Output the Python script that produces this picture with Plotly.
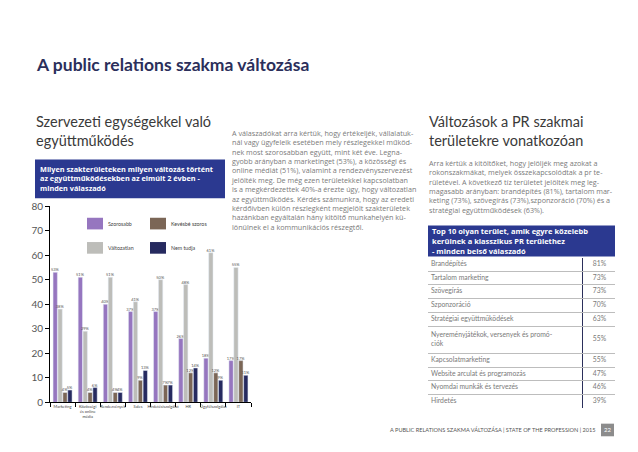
import plotly.graph_objects as go

W, H = 638, 452

# ---------------- data ----------------
categories = ["Marketing", "Közösségi<br>és online<br>média", "Rendezvények", "Sales",
              "Hirdetésiszolgálat", "HR", "Ügyfélszolgálat", "IT"]
series_names = ["Szorosabb", "Változatlan", "Kevésbé szoros", "Nem tudja"]
szorosabb = [53, 51, 40, 37, 37, 26, 18, 17]
valtozatlan = [38, 29, 51, 41, 50, 48, 61, 55]
kevesbe = [4, 4, 4, 9, 7, 12, 12, 17]
nem_tudja = [5, 6, 4, 13, 7, 14, 9, 11]
y_ticks = [0, 10, 20, 30, 40, 50, 60, 70, 80]

table_areas = ["Brandépítés", "Tartalom marketing", "Szövegírás", "Szponzoráció",
               "Stratégiai együttműködések", "Nyereményjátékok, versenyek és promó-<br>ciók",
               "Kapcsolatmarketing", "Website arculat és programozás",
               "Nyomdai munkák és tervezés", "Hirdetés"]
table_pct = ["81%", "73%", "73%", "70%", "63%", "55%", "55%", "47%", "46%", "39%"]

colors = ["#9676bf", "#bdbdb9", "#7b6656", "#262a5f"]
BLUE = "#2b3990"
FONT = "Lato"
BODY = "Open Sans"


def px(x):
    return x / W


def py(y):
    return 1 - y / H


fig = go.Figure()
values = [szorosabb, valtozatlan, kevesbe, nem_tudja]
for name, vals, col in zip(series_names, values, colors):
    fig.add_trace(go.Bar(
        x=categories, y=vals, name=name, marker_color=col,
        text=[f"{v}%" for v in vals], textposition="outside",
        textfont=dict(size=4, color="#555", family=FONT),
        constraintext="none", cliponaxis=False, showlegend=False,
    ))

# ---- table built on its own axes: row heights follow line counts ----
row_h = [t.count("<br>") + 1 for t in table_areas]
bounds = [0]
for h in row_h:
    bounds.append(bounds[-1] + h)
centers = [(a + b) / 2 for a, b in zip(bounds[:-1], bounds[1:])]
COL_W = [154, 33]

fig.add_trace(go.Scatter(
    x=[3] * len(table_areas), y=centers, text=table_areas, mode="text",
    textposition="middle right", xaxis="x2", yaxis="y2", showlegend=False,
    textfont=dict(size=6.8, color="#7a7a7a", family=FONT), hoverinfo="skip"))
fig.add_trace(go.Scatter(
    x=[COL_W[0] + COL_W[1] / 2 + 1] * len(table_pct), y=centers, text=table_pct, mode="text",
    textposition="middle center", xaxis="x2", yaxis="y2", showlegend=False,
    textfont=dict(size=6.8, color="#7a7a7a", family=FONT), hoverinfo="skip"))

fig.update_layout(
    width=W, height=H, autosize=False,
    margin=dict(l=0, r=0, t=0, b=0),
    paper_bgcolor="white", plot_bgcolor="white",
    barmode="group", bargap=0.22, bargroupgap=0.12,
    font=dict(family=FONT, color="#444"),
    xaxis=dict(domain=[px(50), px(251)], showline=True, linecolor="#000", linewidth=1,
               ticks="outside", tickson="boundaries", ticklen=4, tickcolor="#000",
               tickfont=dict(size=4, color="#444"), tickangle=0),
    yaxis=dict(domain=[py(407), py(205)], range=[0, 80], tickvals=y_ticks,
               showline=True, linecolor="#000", linewidth=1, showgrid=False,
               ticks="outside", ticklen=4, tickcolor="#000", zeroline=False,
               tickfont=dict(size=10, color="#555")),
    xaxis2=dict(domain=[px(428), px(615)], range=[0, sum(COL_W)], anchor="y2",
                tickvals=[COL_W[0]], showgrid=True, gridcolor="#2b2f5b", gridwidth=1,
                showticklabels=False, zeroline=False, showline=False, fixedrange=True),
    yaxis2=dict(domain=[py(413), py(258)], range=[bounds[-1], 0], anchor="x2",
                tickvals=bounds[1:], showgrid=True, gridcolor="#bdbdbd", gridwidth=1,
                showticklabels=False, zeroline=False, showline=False, fixedrange=True),
)

shapes = []
ann = []

# title
ann.append(dict(x=px(34), y=py(59), xref="paper", yref="paper", xanchor="left", yanchor="middle",
                text="<b>A public relations szakma változása</b>", showarrow=False,
                font=dict(size=17.5, color="#2b2f5b", family=FONT)))

# left subtitle
ann.append(dict(x=px(34), y=py(128), xref="paper", yref="paper", xanchor="left", yanchor="middle",
                text="Szervezeti egységekkel való<br>együttműködés", showarrow=False, align="left",
                font=dict(size=14.5, color="#3a3a3a", family=FONT)))

# left blue box
shapes.append(dict(type="rect", xref="paper", yref="paper", x0=px(35), x1=px(225), y0=py(197), y1=py(157),
                   fillcolor=BLUE, line=dict(width=0)))
ann.append(dict(x=px(38), y=py(177), xref="paper", yref="paper", xanchor="left", yanchor="middle",
                text="<b>Milyen szakterületeken milyen változás történt<br>az együttműködésekben az elmúlt 2 évben -<br>minden válaszadó</b>",
                showarrow=False, align="left", font=dict(size=7.3, color="white", family=BODY)))

# middle paragraph
mid_text = ("A válaszadókat arra kértük, hogy értékeljék, vállalatuk-<br>"
            "nál vagy ügyfeleik esetében mely részlegekkel működ-<br>"
            "nek most szorosabban együtt, mint két éve. Legna-<br>"
            "gyobb arányban a marketinget (53%), a közösségi és<br>"
            "online médiát (51%), valamint a rendezvényszervezést<br>"
            "jelölték meg. De még ezen területekkel kapcsolatban<br>"
            "is a megkérdezettek 40%-a érezte úgy, hogy változatlan<br>"
            "az együttműködés. Kérdés számunkra, hogy az eredeti<br>"
            "kérdőívben külön részlegként megjelölt szakterületek<br>"
            "hazánkban egyáltalán hány kitöltő munkahelyén kü-<br>"
            "lönülnek el a kommunikációs részegtől.")
ann.append(dict(x=px(229), y=py(123), xref="paper", yref="paper", xanchor="left", yanchor="top",
                text=mid_text, showarrow=False, align="left",
                font=dict(size=7.2, color="#7a7a7a", family=BODY)))

# right heading
ann.append(dict(x=px(427), y=py(128), xref="paper", yref="paper", xanchor="left", yanchor="middle",
                text="Változások a PR szakmai<br>területekre vonatkozóan", showarrow=False, align="left",
                font=dict(size=14.5, color="#3a3a3a", family=FONT)))

right_text = ("Arra kértük a kitöltőket, hogy jelöljék meg azokat a<br>"
              "rokonszakmákat, melyek összekapcsolódtak a pr te-<br>"
              "rületével. A következő tíz területet jelölték meg leg-<br>"
              "magasabb arányban: brandépítés (81%), tartalom mar-<br>"
              "keting (73%), szövegírás (73%),szponzoráció (70%) és a<br>"
              "stratégiai együttműködések (63%).")
ann.append(dict(x=px(427), y=py(153), xref="paper", yref="paper", xanchor="left", yanchor="top",
                text=right_text, showarrow=False, align="left",
                font=dict(size=7.2, color="#7a7a7a", family=BODY)))

# table header box
shapes.append(dict(type="rect", xref="paper", yref="paper", x0=px(428), x1=px(615), y0=py(257), y1=py(225),
                   fillcolor=BLUE, line=dict(width=0)))
ann.append(dict(x=px(430), y=py(241), xref="paper", yref="paper", xanchor="left", yanchor="middle",
                text="<b>Top 10 olyan terület, amik egyre közelebb<br>kerülnek a klasszikus PR területhez<br>- minden belső válaszadó</b>",
                showarrow=False, align="left", font=dict(size=7.5, color="white", family=BODY)))

# legend (inside chart)
legend_pos = [(87, 223), (87, 248), (150, 223), (150, 248)]
for name, col, (lx, ly) in zip(series_names, colors, legend_pos):
    shapes.append(dict(type="rect", xref="paper", yref="paper", x0=px(lx), x1=px(lx + 16),
                       y0=py(ly + 6), y1=py(ly - 6), fillcolor=col, line=dict(width=0)))
    ann.append(dict(x=px(lx + 19), y=py(ly), xref="paper", yref="paper", xanchor="left", yanchor="middle",
                    text=name, showarrow=False, font=dict(size=5.3, color="#444", family=FONT)))

# footer
ann.append(dict(x=px(597), y=py(435), xref="paper", yref="paper", xanchor="right", yanchor="middle",
                text="A PUBLIC RELATIONS SZAKMA VÁLTOZÁSA | STATE OF THE PROFESSION | 2015",
                showarrow=False, font=dict(size=5.6, color="#555", family=FONT)))
shapes.append(dict(type="rect", xref="paper", yref="paper", x0=px(601), x1=px(614), y0=py(442), y1=py(429),
                   fillcolor="#8c8c8c", line=dict(width=0)))
ann.append(dict(x=px(607.5), y=py(435.5), xref="paper", yref="paper", xanchor="center", yanchor="middle",
                text="22", showarrow=False, font=dict(size=6, color="white", family=FONT)))

fig.update_layout(shapes=shapes, annotations=ann)
fig.write_html("out.html", config={"displayModeBar": False},
               post_script="document.body.style.margin='0px';document.body.style.overflow='hidden';")
